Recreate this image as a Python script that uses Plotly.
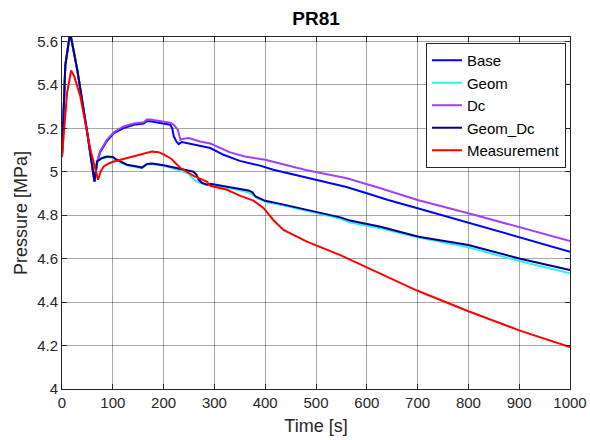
import plotly.graph_objects as go

# ---- data ----
base_t = [0, 6.5, 16, 30, 49, 64, 69, 75, 88, 102, 120, 141, 161, 167, 174, 190, 213, 217, 220, 225, 229.5, 236, 246, 272, 292, 318, 350, 390, 416, 460, 502, 560, 600, 642, 700, 800, 900, 1000]
base_p = [5.07, 5.49, 5.64, 5.47, 5.19, 4.955, 5.04, 5.09, 5.14, 5.178, 5.20, 5.216, 5.222, 5.232, 5.232, 5.225, 5.216, 5.20, 5.163, 5.14, 5.127, 5.137, 5.132, 5.12, 5.109, 5.078, 5.05, 5.028, 5.009, 4.985, 4.963, 4.93, 4.901, 4.870, 4.832, 4.765, 4.696, 4.632]

geom_t = [0, 6.5, 16, 30, 49, 64, 69, 78, 88.6, 100, 108, 128, 145, 157.5, 167, 177, 200, 233, 250, 255, 262, 270, 285, 292, 351, 364, 375, 384, 400, 430, 502, 548, 567, 600, 627, 702, 800, 900, 1000]
geom_p = [5.07, 5.49, 5.64, 5.47, 5.19, 4.955, 5.045, 5.060, 5.068, 5.065, 5.052, 5.030, 5.022, 5.016, 5.033, 5.035, 5.027, 5.005, 4.990, 4.975, 4.960, 4.950, 4.940, 4.940, 4.915, 4.907, 4.895, 4.878, 4.862, 4.848, 4.810, 4.785, 4.766, 4.752, 4.740, 4.697, 4.652, 4.589, 4.532]

dc_t = [0, 6.5, 16, 30, 49, 64, 69, 75, 88, 102, 120, 141, 161, 167, 174, 200, 213, 220, 228, 233, 240, 249.5, 272, 292, 331, 360, 400, 480, 561, 627, 700, 800, 900, 1000]
dc_p = [5.07, 5.49, 5.64, 5.47, 5.19, 4.955, 5.045, 5.095, 5.145, 5.182, 5.207, 5.222, 5.228, 5.240, 5.240, 5.232, 5.225, 5.216, 5.193, 5.147, 5.152, 5.155, 5.139, 5.130, 5.089, 5.07, 5.055, 5.008, 4.970, 4.924, 4.870, 4.809, 4.744, 4.681]

geomdc_t = [0, 6.5, 16, 30, 49, 64, 69, 78, 88.6, 100, 108, 128, 145, 157.5, 167, 177, 200, 233, 259, 265, 269, 275, 285, 292, 351, 367, 375, 381, 400, 430, 502, 548, 567, 600, 627, 702, 800, 900, 1000]
geomdc_p = [5.07, 5.49, 5.64, 5.47, 5.19, 4.955, 5.047, 5.062, 5.070, 5.068, 5.055, 5.032, 5.025, 5.019, 5.036, 5.038, 5.030, 5.012, 5.000, 4.985, 4.963, 4.950, 4.940, 4.944, 4.920, 4.914, 4.905, 4.886, 4.866, 4.852, 4.814, 4.790, 4.775, 4.758, 4.747, 4.701, 4.663, 4.601, 4.547]

meas_t = [0, 5, 10, 18, 24, 36, 56, 71, 76, 82, 92, 102, 120, 141, 160, 177, 190, 200, 215, 233, 260, 285, 292, 325, 351, 377, 397, 416, 436, 482, 548, 604, 700, 800, 900, 1000]
meas_p = [5.07, 5.22, 5.363, 5.466, 5.44, 5.347, 5.101, 4.963, 5.00, 5.024, 5.038, 5.047, 5.058, 5.070, 5.083, 5.093, 5.090, 5.080, 5.06, 5.017, 4.980, 4.955, 4.935, 4.917, 4.889, 4.867, 4.832, 4.778, 4.732, 4.678, 4.616, 4.555, 4.452, 4.358, 4.270, 4.193]

x_ticks = [0, 100, 200, 300, 400, 500, 600, 700, 800, 900, 1000]
x_labels = ["0", "100", "200", "300", "400", "500", "600", "700", "800", "900", "1000"]
y_ticks = [4, 4.2, 4.4, 4.6, 4.8, 5, 5.2, 5.4, 5.6]
y_labels = ["4", "4.2", "4.4", "4.6", "4.8", "5", "5.2", "5.4", "5.6"]

series = [
    ("Base", base_t, base_p, "#0000FF"),
    ("Geom", geom_t, geom_p, "#33EEEE"),
    ("Dc", dc_t, dc_p, "#A040F8"),
    ("Geom_Dc", geomdc_t, geomdc_p, "#00008B"),
    ("Measurement", meas_t, meas_p, "#FF0000"),
]

FONT = "Liberation Sans, Arial, sans-serif"
TXT = "#262626"

fig = go.Figure()
for name, t, p, c in series:
    fig.add_trace(go.Scatter(x=t, y=p, mode="lines", name=name,
                             line=dict(color=c, width=2)))

axis_common = dict(
    showline=True, linecolor=TXT, linewidth=1, mirror="ticks",
    ticks="inside", ticklen=5, tickcolor=TXT,
    showgrid=True, gridcolor="rgba(0,0,0,0.35)", gridwidth=1,
    zeroline=False, automargin=False,
    tickfont=dict(family=FONT, size=15, color=TXT),
)

fig.update_layout(
    width=590, height=440,
    margin=dict(l=62, r=20, t=37, b=51),
    paper_bgcolor="white", plot_bgcolor="white",
    font=dict(family=FONT, color=TXT),
    title=dict(text="<b>PR81</b>", x=0.5, xref="paper", y=1 - 18 / 440,
               yref="container", yanchor="middle", xanchor="center",
               font=dict(family=FONT, size=19, color="black")),
    xaxis=dict(range=[0, 1000], tickvals=x_ticks, ticktext=x_labels,
               title=dict(text="Time [s]", font=dict(family=FONT, size=18, color=TXT), standoff=9),
               **axis_common),
    yaxis=dict(range=[4, 5.62], tickvals=y_ticks, ticktext=y_labels,
               title=dict(text="Pressure [MPa]", font=dict(family=FONT, size=18, color=TXT), standoff=4),
               **axis_common),
    legend=dict(x=0.992, y=0.983, xanchor="right", yanchor="top",
                bgcolor="white", bordercolor=TXT, borderwidth=1,
                font=dict(family=FONT, size=15, color="black"),
                tracegroupgap=0, itemwidth=30),
    showlegend=True,
)

fig.write_html("out.html")
